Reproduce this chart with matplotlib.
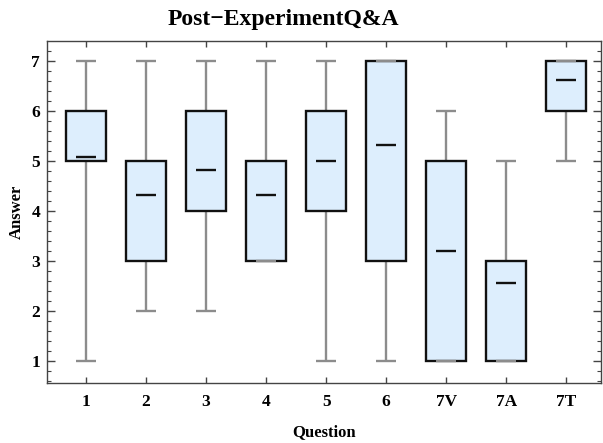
import matplotlib
matplotlib.use("Agg")
import matplotlib.pyplot as plt
from matplotlib.patches import Rectangle
from matplotlib.ticker import MultipleLocator

categories = ["1", "2", "3", "4", "5", "6", "7V", "7A", "7T"]
mins   = [1, 2, 2, 3, 1, 1, 1, 1, 5]
q1s    = [5, 3, 4, 3, 4, 3, 1, 1, 6]
q3s    = [6, 5, 6, 5, 6, 7, 5, 3, 7]
maxs   = [7, 7, 7, 7, 7, 7, 6, 5, 7]
means  = [5.07, 4.32, 4.81, 4.32, 5.0, 5.31, 3.2, 2.57, 6.62]

plt.rcParams['font.family'] = ['Liberation Serif', 'DejaVu Serif']
plt.rcParams['font.weight'] = 'bold'

fig = plt.figure(figsize=(6.03, 4.43), dpi=100)
ax = fig.add_axes([47/603, (443-383)/443, (601-47)/603, (383-41)/443])

box_w = 0.66
cap_w = 0.34
whisk_col = '#8c8c8c'
lw = 1.7
for i, cat in enumerate(categories):
    x = i + 1
    ax.plot([x, x], [mins[i], q1s[i]], color=whisk_col, lw=lw, zorder=1, solid_capstyle='butt')
    ax.plot([x, x], [q3s[i], maxs[i]], color=whisk_col, lw=lw, zorder=1, solid_capstyle='butt')
    ax.add_patch(Rectangle((x - box_w/2, q1s[i]), box_w, q3s[i] - q1s[i],
                           facecolor='#ddeefd', edgecolor='#111111', lw=1.7, zorder=2))
    ax.plot([x - cap_w/2, x + cap_w/2], [mins[i], mins[i]], color=whisk_col, lw=lw, zorder=3, solid_capstyle='butt')
    ax.plot([x - cap_w/2, x + cap_w/2], [maxs[i], maxs[i]], color=whisk_col, lw=lw, zorder=3, solid_capstyle='butt')
    ax.plot([x - cap_w/2, x + cap_w/2], [means[i], means[i]], color='#111111', lw=1.7, zorder=4, solid_capstyle='butt')

ax.set_xlim(0.35, 9.58)
ax.set_ylim(0.57, 7.39)
ax.set_xticks(range(1, len(categories) + 1))
ax.set_xticklabels(categories)
ax.set_yticks(range(1, 8))
ax.yaxis.set_minor_locator(MultipleLocator(0.2))

for s in ax.spines.values():
    s.set_color('#444444')
    s.set_linewidth(1.0)

ax.tick_params(axis='both', which='both', direction='in', colors='#444444',
               labelcolor='black', labelsize=12.5, top=True, right=True)
ax.tick_params(axis='y', which='major', length=6, width=1, pad=5)
ax.tick_params(axis='y', which='minor', length=3, width=0.8)
ax.tick_params(axis='x', which='major', length=4, width=1, pad=8)
ax.tick_params(axis='x', which='minor', length=0)
for lab in ax.get_xticklabels() + ax.get_yticklabels():
    lab.set_fontweight('bold')

ax.set_xlabel('Question', fontsize=12, fontweight='bold', labelpad=10)
ax.set_ylabel('Answer', fontsize=12, fontweight='bold', labelpad=5)
fig.text(283/603, 1 - 19/443, 'Post\u2212ExperimentQ&A', fontsize=17, fontweight='bold',
         ha='center', va='center')

fig.savefig('out.png', dpi=100)
